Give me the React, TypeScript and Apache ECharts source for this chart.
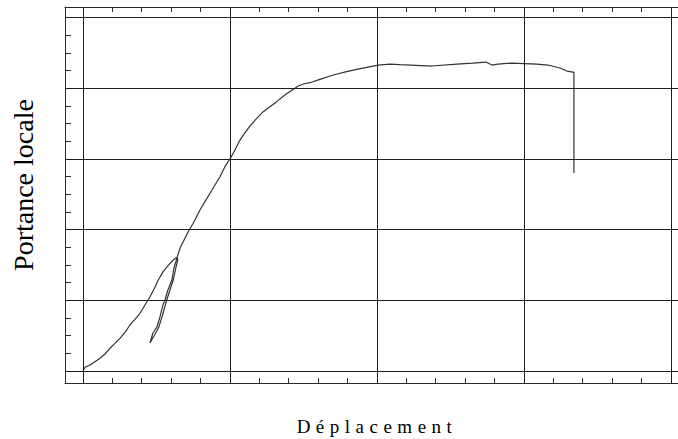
import React, { useEffect, useRef } from "react";
import * as echarts from "echarts";

// First loading branch, from the origin up to the unloading point
const firstLoadX = [
  0, 0.014, 0.048, 0.082, 0.116, 0.15, 0.184, 0.218, 0.252, 0.286, 0.32, 0.354, 0.388, 0.422, 0.456,
  0.49, 0.512, 0.546, 0.58, 0.614, 0.641,
];
const firstLoadY = [
  0, 0.052, 0.085, 0.132, 0.179, 0.24, 0.321, 0.391, 0.462, 0.547, 0.651, 0.731, 0.816, 0.933, 1.051,
  1.184, 1.287, 1.405, 1.495, 1.57, 1.608,
];

// Unloading branch, going back down
const unloadX = [0.645, 0.632, 0.615, 0.592, 0.566, 0.54, 0.516, 0.49, 0.456];
const unloadY = [1.57, 1.46, 1.29, 1.146, 0.976, 0.78, 0.62, 0.52, 0.396];

// Reloading branch, then the main curve, the plateau and the final drop
const reloadX = [
  0.456, 0.476, 0.503, 0.524, 0.544, 0.558, 0.578, 0.605, 0.619, 0.641, 0.66, 0.694, 0.716, 0.75,
  0.796, 0.83, 0.878, 0.932, 0.966, 1.007, 1.034, 1.068, 1.103, 1.136, 1.182, 1.227, 1.272, 1.318,
  1.374, 1.431, 1.465, 1.499, 1.544, 1.612, 1.703, 1.794, 1.862, 1.93, 2.009, 2.088, 2.156, 2.374,
  2.544, 2.653, 2.741, 2.782, 2.823, 2.918, 3.088, 3.163, 3.245, 3.293, 3.333, 3.34, 3.34,
];
const reloadY = [
  0.396, 0.537, 0.622, 0.764, 0.933, 1.004, 1.146, 1.287, 1.457, 1.608, 1.735, 1.877, 1.97, 2.089,
  2.277, 2.395, 2.56, 2.748, 2.89, 3.024, 3.126, 3.267, 3.371, 3.465, 3.574, 3.668, 3.739, 3.81,
  3.904, 3.985, 4.031, 4.06, 4.078, 4.126, 4.187, 4.234, 4.267, 4.296, 4.328, 4.342, 4.333, 4.314,
  4.342, 4.356, 4.37, 4.328, 4.342, 4.356, 4.342, 4.328, 4.286, 4.243, 4.229, 4.229, 2.801,
];

// Grid lines and minor tick positions
const gridX = [0, 1, 2, 3, 4];
const gridY = [0, 1, 2, 3, 4, 5];
const minorX: number[] = [];
for (let i = 1; i <= 20; i++) minorX.push(+(i * 0.2).toFixed(2));
const minorY: number[] = [];
for (let i = 1; i <= 20; i++) minorY.push(+(i * 0.25).toFixed(2));

const X_MIN = -0.122;
const X_MAX = 4.048;
const Y_MIN = -0.17;
const Y_MAX = 5.149;

const toPairs = (xs: number[], ys: number[]) => xs.map((x, i) => [x, ys[i]]);

const INK = "#2a2a2a";
const SERIF = '"Liberation Serif", "Times New Roman", serif';

export default function App() {
  const ref = useRef<HTMLDivElement>(null);

  useEffect(() => {
    if (!ref.current) return;
    const chart = echarts.init(ref.current, undefined, { renderer: "svg" });

    const tickAxis = (position: "top" | "bottom") => ({
      type: "value" as const,
      position,
      min: X_MIN,
      max: X_MAX,
      axisLine: { show: true, onZero: false, lineStyle: { color: INK, width: 1 } },
      axisTick: { show: true, inside: true, length: 5, customValues: minorX, lineStyle: { color: INK, width: 1 } },
      axisLabel: { show: false },
      splitLine: { show: false },
    });

    const curve = [
      ...toPairs(firstLoadX, firstLoadY),
      ...toPairs(unloadX, unloadY),
      ...toPairs(reloadX, reloadY),
    ];

    chart.setOption({
      animation: false,
      backgroundColor: "#ffffff",
      grid: { left: 65, right: 0, top: 7, bottom: 56, containLabel: false },
      xAxis: [tickAxis("bottom"), tickAxis("top")],
      yAxis: [
        {
          type: "value",
          position: "left",
          min: Y_MIN,
          max: Y_MAX,
          axisLine: { show: true, onZero: false, lineStyle: { color: INK, width: 1 } },
          axisTick: { show: true, inside: true, length: 6, customValues: minorY, lineStyle: { color: INK, width: 1 } },
          axisLabel: { show: false },
          splitLine: { show: false },
        },
      ],
      series: [
        {
          type: "line",
          xAxisIndex: 0,
          yAxisIndex: 0,
          data: curve,
          showSymbol: false,
          symbol: "none",
          silent: true,
          lineStyle: { color: "#333333", width: 1.2 },
          markLine: {
            silent: true,
            symbol: ["none", "none"],
            label: { show: false },
            lineStyle: { color: "#1e1e1e", width: 1, type: "solid" },
            emphasis: { disabled: true },
            data: [
              ...gridX.map((v) => ({ xAxis: v })),
              ...gridY.map((v) => ({ yAxis: v })),
            ],
          },
        },
      ],
      graphic: [
        {
          type: "text",
          x: 377,
          y: 426,
          silent: true,
          style: {
            text: "Déplacement",
            font: `19px ${SERIF}`,
            fill: "#000",
            textAlign: "center",
            textVerticalAlign: "middle",
          },
        },
        {
          type: "text",
          x: 23,
          y: 185,
          rotation: Math.PI / 2,
          silent: true,
          style: {
            text: "Portance locale",
            font: `28px ${SERIF}`,
            fill: "#000",
            textAlign: "center",
            textVerticalAlign: "middle",
          },
        },
      ],
    });

    // Spread the letters of the horizontal title
    ref.current.querySelectorAll("text").forEach((t) => {
      if (t.textContent === "Déplacement") t.setAttribute("letter-spacing", "5.5");
    });

    return () => chart.dispose();
  }, []);

  return (
    <div
      ref={ref}
      style={{ position: "absolute", left: 0, top: 0, width: 678, height: 439, background: "#fff" }}
    />
  );
}
